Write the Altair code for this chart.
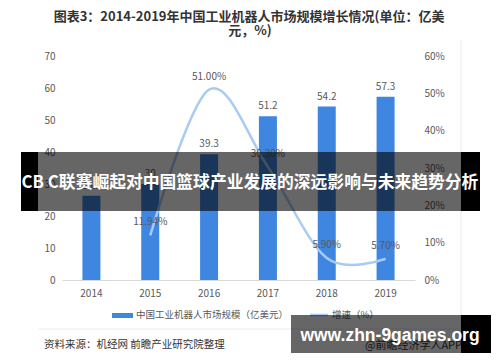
import altair as alt
import pandas as pd

# ---- data ----
years = ["2014", "2015", "2016", "2017", "2018", "2019"]
market = [26.3, 30, 39.3, 51.2, 54.2, 57.3]
growth_years = ["2015", "2016", "2017", "2018", "2019"]
growth = [11.94, 51.00, 30.30, 5.90, 5.70]

title_line1 = "图表3：2014-2019年中国工业机器人市场规模增长情况(单位：亿美"
title_line2 = "元，%)"
legend_bar = "中国工业机器人市场规模（亿美元）"
legend_line = "增速（%）"
source_text = "资料来源：机经网 前瞻产业研究院整理"
credit_text = "@前瞻经济学人APP"
banner_text = "CB C联赛崛起对中国篮球产业发展的深远影响与未来趋势分析"
watermark_text = "www.zhn-9games.org"

df_bar = pd.DataFrame({"year": years, "value": market})
df_line = pd.DataFrame({"year": growth_years, "growth": growth})

OX, OY = 62, 56  # page position of plot origin
FONT = "Noto Sans CJK SC"
GREY = "#595959"

x_enc = alt.X("year:N", scale=alt.Scale(domain=years), bandPosition=0.5,
              axis=alt.Axis(title=None, labelAngle=0, ticks=False, domainColor="#d9d9d9",
                            labelColor=GREY, labelFontSize=10, labelPadding=8, labelFont=FONT))
y_bar = alt.Y("value:Q", scale=alt.Scale(domain=[0, 70], nice=False),
              axis=alt.Axis(title=None, values=list(range(0, 71, 10)), grid=False, domain=False,
                            ticks=False, labelPadding=7, labelColor=GREY, labelFontSize=10, labelFont=FONT))
y_line = alt.Y("growth:Q", scale=alt.Scale(domain=[0, 60], nice=False),
               axis=alt.Axis(title=None, orient="right", values=list(range(0, 61, 10)),
                             labelExpr="datum.value + '%'", grid=False, domain=False, ticks=False,
                             labelPadding=9, labelColor=GREY, labelFontSize=10, labelFont=FONT))

bars = alt.Chart(df_bar).mark_bar(size=18, color="#3f86e0").encode(x=x_enc, y=y_bar)
bar_text = alt.Chart(df_bar).mark_text(dy=-10, fontSize=10, color=GREY, font=FONT, baseline="middle").encode(
    x=x_enc, y=y_bar, text=alt.Text("value:Q"))
bar_layer = alt.layer(bars, bar_text)

line = alt.Chart(df_line).mark_line(interpolate="cardinal", color="#a8cbf3", strokeWidth=2.5).encode(
    x=x_enc, y=y_line)
line_text = alt.Chart(df_line).transform_calculate(
    lbl="format(datum.growth, '.2f') + '%'"
).mark_text(dy=-13, fontSize=10, color=GREY, font=FONT, baseline="middle").encode(
    x=x_enc, y=y_line, text="lbl:N")
line_layer = alt.layer(line, line_text)

one = alt.Data(values=[{}])


def txt(s, x, y, **kw):
    return alt.Chart(one).mark_text(text=s, baseline="middle", **kw).encode(
        x=alt.value(x - OX), y=alt.value(y - OY))


def rect(x1, x2, y1, y2, **kw):
    return alt.Chart(one).mark_rect(**kw).encode(
        x=alt.value(x1 - OX), x2=alt.value(x2 - OX), y=alt.value(y1 - OY), y2=alt.value(y2 - OY))


frame_h = alt.Chart(one).mark_rule(color="#e6ecf5", strokeWidth=1).encode(
    x=alt.value(38 - OX), x2=alt.value(461 - OX), y=alt.value(329 - OY))
frame_v = alt.Chart(one).mark_rule(color="#e6ecf5", strokeWidth=1).encode(
    x=alt.value(461 - OX), y=alt.value(40 - OY), y2=alt.value(329 - OY))

t1 = txt(title_line1, 249, 17, font=FONT, fontSize=13, fontWeight="bold", color="#333333", align="center")
t2 = txt(title_line2, 250, 31, font=FONT, fontSize=13, fontWeight="bold", color="#333333", align="center")

leg_sw1 = rect(112, 133, 313, 318, color="#3f86e0")
leg_t1 = txt(legend_bar, 136, 315, font=FONT, fontSize=9.5, color=GREY, align="left")
leg_sw2 = alt.Chart(one).mark_rule(color="#a8cbf3", strokeWidth=2.5).encode(
    x=alt.value(310 - OX), x2=alt.value(328 - OX), y=alt.value(315 - OY))
leg_t2 = txt(legend_line, 332, 315, font=FONT, fontSize=9.5, color=GREY, align="left")

src = txt(source_text, 44, 345, font=FONT, fontSize=10.5, color="#333333", align="left")
credit = txt(credit_text, 365, 346, font=FONT, fontSize=11, color="#333333", align="left")

# overlay banner
ban_l = rect(21, 38, 152, 211, color="black", opacity=1)
ban_m = rect(38, 461, 152, 211, color="black", opacity=0.6)
ban_r = rect(461, 480, 152, 211, color="black", opacity=1)
ban_t = txt(banner_text, 250, 183, font=FONT, fontSize=16.8, fontWeight="bold", color="white", align="center")

wm_m = rect(291, 461, 315, 353, color="black", opacity=0.6)
wm_r = rect(461, 491, 315, 353, color="black", opacity=1)
wm_t = txt(watermark_text, 390, 336, font="Liberation Sans", fontSize=17.5, fontWeight="bold",
           color="white", align="center")

chart = alt.layer(
    bar_layer, line_layer,
    frame_h, frame_v, t1, t2, leg_sw1, leg_t1, leg_sw2, leg_t2, src, credit,
    ban_l, ban_m, ban_r, ban_t, wm_m, wm_r, wm_t,
).resolve_scale(y="independent").properties(
    width=353, height=224, autosize="none",
    padding={"left": 54, "top": 48, "right": 77, "bottom": 74},
    background="white",
).configure_view(stroke=None)

chart.save("out.html", embed_options={"renderer": "svg", "actions": False})
